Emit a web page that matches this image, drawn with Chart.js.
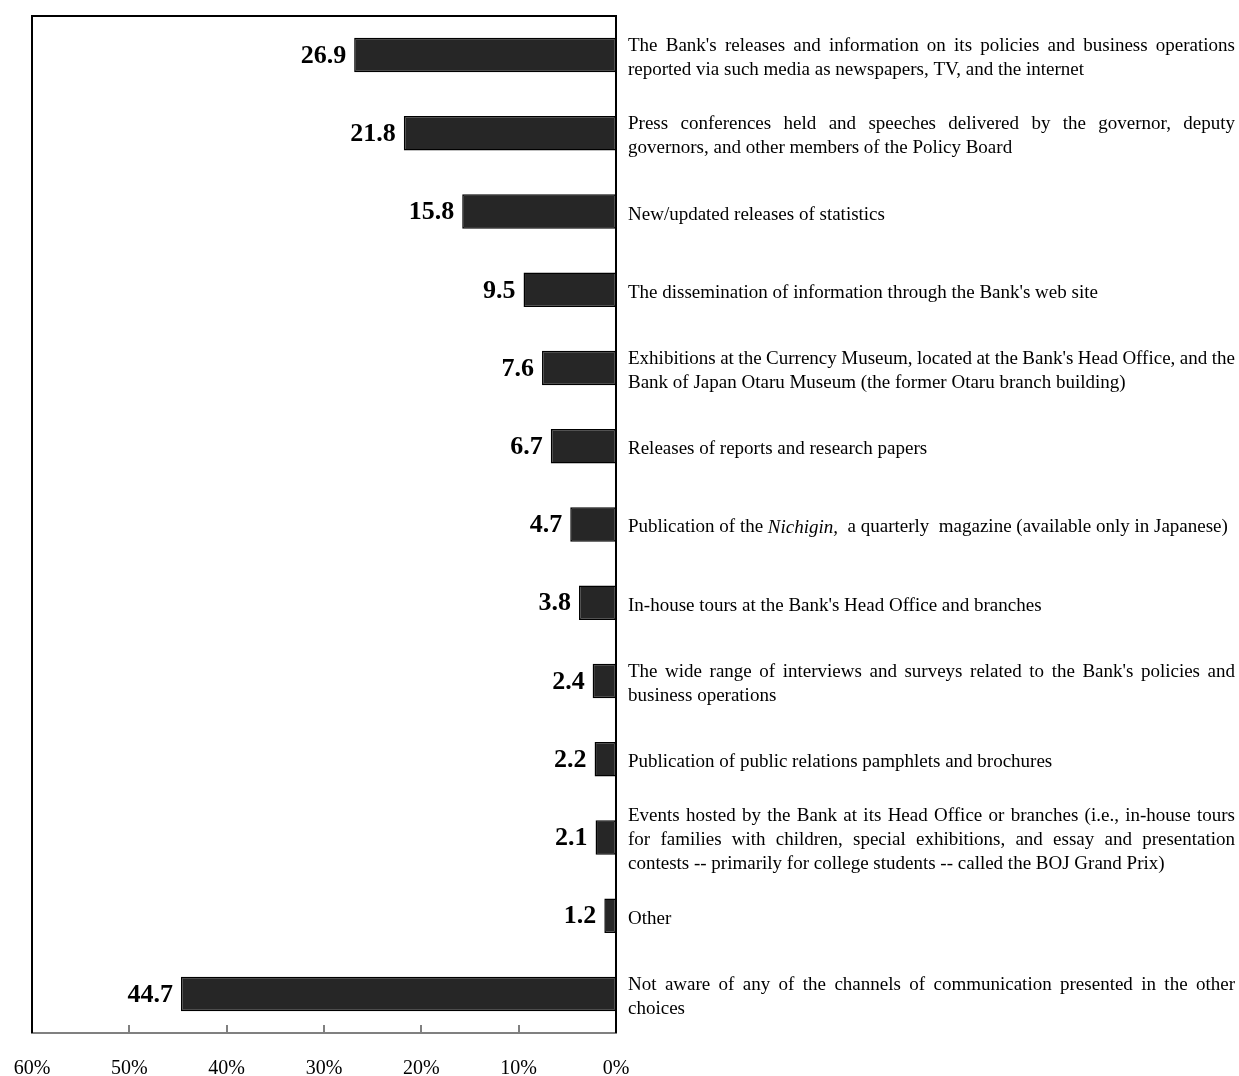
<!DOCTYPE html>
<html>
<head>
<meta charset="utf-8">
<script src="https://cdn.jsdelivr.net/npm/chart.js@4/dist/chart.umd.min.js"></script>
<style>
  html, body { margin: 0; padding: 0; background: #fff; }
  #chart { display: block; }
</style>
</head>
<body>
<canvas id="chart" width="1239" height="1076"></canvas>
<script>
// Survey answers, one entry per bar (lines as they wrap beside the bar, *word* = italic)
const categories = [
    ["The Bank's releases and information on its policies and business operations", "reported via such media as newspapers, TV, and the internet"],
    ["Press conferences held and speeches delivered by the governor, deputy", "governors, and other members of the Policy Board"],
    ["New/updated releases of statistics"],
    ["The dissemination of information through the Bank's web site"],
    ["Exhibitions at the Currency Museum, located at the Bank's Head Office, and the", "Bank of Japan Otaru Museum (the former Otaru branch building)"],
    ["Releases of reports and research papers"],
    ["Publication of the *Nichigin,*  a quarterly  magazine (available only in Japanese)"],
    ["In-house tours at the Bank's Head Office and branches"],
    ["The wide range of interviews and surveys related to the Bank's policies and", "business operations"],
    ["Publication of public relations pamphlets and brochures"],
    ["Events hosted by the Bank at its Head Office or branches (i.e., in-house tours", "for families with children, special exhibitions, and essay and presentation", "contests -- primarily for college students -- called the BOJ Grand Prix)"],
    ["Other"],
    ["Not aware of any of the channels of communication presented in the other", "choices"]
];
const values = [26.9, 21.8, 15.8, 9.5, 7.6, 6.7, 4.7, 3.8, 2.4, 2.2, 2.1, 1.2, 44.7];
const xTicks = [0, 10, 20, 30, 40, 50, 60];

const SERIF = '"Liberation Serif", "Times New Roman", serif';

// Split a line into words, each carrying its own style
function tokenize(line) {
    const words = [];
    line.split('*').forEach((part, i) => {
        const italic = i % 2 === 1;
        part.split(' ').forEach((w, j) => {
            if (j > 0) words.push(null); // gap marker
            if (w.length) words.push({ text: w, italic: italic });
        });
    });
    return words;
}

function fontFor(italic) {
    return (italic ? 'italic ' : '') + '19px ' + SERIF;
}

function drawLine(ctx, line, x, y, width, justify) {
    const tokens = tokenize(line);
    let wordsWidth = 0;
    let gaps = 0;
    tokens.forEach(t => {
        if (t === null) { gaps++; return; }
        ctx.font = fontFor(t.italic);
        t.w = ctx.measureText(t.text).width;
        wordsWidth += t.w;
    });
    ctx.font = fontFor(false);
    let gap = ctx.measureText(' ').width;
    if (justify && gaps > 0) gap = (width - wordsWidth) / gaps;
    let cx = x;
    tokens.forEach(t => {
        if (t === null) { cx += gap; return; }
        ctx.font = fontFor(t.italic);
        ctx.fillText(t.text, cx, y);
        cx += t.w;
    });
}

// Frame, inner ticks, value labels and the wrapped answer texts
const decorations = {
    id: 'decorations',
    afterDatasetsDraw(chart) {
        const ctx = chart.ctx;
        const area = chart.chartArea;
        const xScale = chart.scales.x;
        const meta = chart.getDatasetMeta(0);

        ctx.save();

        // gray tick marks pointing up from the axis
        ctx.strokeStyle = '#808080';
        ctx.lineWidth = 2;
        xTicks.forEach(v => {
            const px = Math.round(xScale.getPixelForValue(v));
            ctx.beginPath();
            ctx.moveTo(px, area.bottom);
            ctx.lineTo(px, area.bottom - 8);
            ctx.stroke();
        });

        // black frame on left, top and the zero line
        ctx.strokeStyle = '#000';
        ctx.lineWidth = 2;
        ctx.beginPath();
        ctx.moveTo(area.left, area.bottom);
        ctx.lineTo(area.left, area.top);
        ctx.lineTo(area.right, area.top);
        ctx.lineTo(area.right, area.bottom);
        ctx.stroke();

        // values next to the bars
        ctx.fillStyle = '#000';
        ctx.font = 'bold 26px ' + SERIF;
        ctx.textAlign = 'right';
        ctx.textBaseline = 'middle';
        meta.data.forEach((bar, i) => {
            ctx.fillText(values[i].toFixed(1), bar.x - 8, bar.y + 1);
        });

        // answer texts, justified to the right edge
        ctx.textAlign = 'left';
        const textLeft = area.right + 12;
        const textWidth = chart.width - 4 - textLeft;
        const lineH = 24;
        meta.data.forEach((bar, i) => {
            const lines = categories[i];
            const y0 = bar.y + 3 - (lines.length - 1) * lineH / 2;
            lines.forEach((line, k) => {
                drawLine(ctx, line, textLeft, y0 + k * lineH, textWidth, k < lines.length - 1);
            });
        });

        ctx.restore();
    }
};

new Chart(document.getElementById('chart'), {
    type: 'bar',
    data: {
        labels: categories.map(lines => lines.join(' ').replace(/\*/g, '')),
        datasets: [{
            data: values,
            backgroundColor: '#262626',
            borderColor: '#000',
            borderWidth: 1.5,
            borderSkipped: false,
            barPercentage: 0.9,
            categoryPercentage: 0.49
        }]
    },
    options: {
        indexAxis: 'y',
        responsive: false,
        animation: false,
        devicePixelRatio: 1,
        layout: {
            padding: { left: 32, right: 623, top: 16, bottom: 0 }
        },
        plugins: {
            legend: { display: false },
            tooltip: { enabled: false }
        },
        scales: {
            x: {
                reverse: true,
                min: 0,
                max: 60,
                grid: { display: false, drawTicks: false },
                border: { display: true, color: '#808080', width: 2 },
                ticks: {
                    stepSize: 10,
                    padding: 26,
                    color: '#000',
                    font: { family: SERIF, size: 20, lineHeight: 1 },
                    maxRotation: 0,
                    callback: v => v + '%'
                },
                afterFit(scale) {
                    scale.height = 43;
                    scale.paddingLeft = 0;
                    scale.paddingRight = 0;
                }
            },
            y: {
                display: false,
                offset: true,
                grid: { display: false }
            }
        }
    },
    plugins: [decorations]
});
</script>
</body>
</html>
